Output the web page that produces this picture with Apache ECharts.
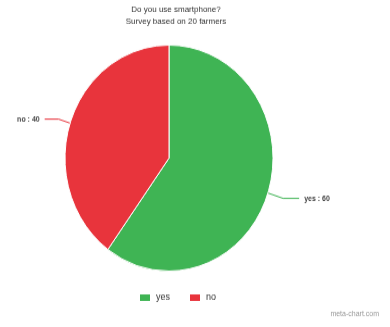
<!DOCTYPE html>
<html>
<head>
<meta charset="utf-8">
<script src="https://cdn.jsdelivr.net/npm/echarts@6/dist/echarts.min.js"></script>
<style>
html,body{margin:0;padding:0;background:#fff;}
#wrap{width:390px;height:327px;overflow:hidden;}
/* the reference picture is stretched vertically, so draw at 390x301 and stretch */
#container{width:390px;height:301px;transform:scale(1,1.0864);transform-origin:0 0;}
</style>
</head>
<body>
<div id="wrap"><div id="container"></div></div>
<script>
var categories = ['yes', 'no'];
var values = [60, 40];
var colors = ['#3fb454', '#e8343c'];

window.onload = function () {
	var chart = echarts.init(document.getElementById('container'));
	var data = [];
	for (var i = 0; i < categories.length; i++) {
		data.push({
			name: categories[i],
			value: values[i],
			itemStyle: { color: colors[i] },
			labelLine: { lineStyle: { color: colors[i] } }
		});
	}
	// yes label sits a bit further out than no
	data[0].labelLine.length = 16;
	data[0].labelLine.length2 = 16;
	var option = {
		backgroundColor: '#fff',
		animation: false,
		title: [{
			text: 'Do you use smartphone?',
			subtext: 'Survey based on 20 farmers',
			left: 171,
			textAlign: 'center',
			top: 0,
			itemGap: 3,
			textStyle: { fontSize: 8, fontWeight: 'normal', color: '#333', fontFamily: 'Liberation Sans' },
			subtextStyle: { fontSize: 8, color: '#333', fontFamily: 'Liberation Sans' }
		}, {
			text: 'meta-chart.com',
			right: 6,
			bottom: 3,
			textStyle: { fontSize: 7, fontWeight: 'normal', color: '#999', fontFamily: 'Liberation Sans' }
		}],
		legend: {
			bottom: 17,
			left: 133,
			itemWidth: 12,
			itemHeight: 8,
			itemGap: 18,
			icon: 'rect',
			textStyle: { fontSize: 9, color: '#333', fontFamily: 'Liberation Sans' },
			data: categories
		},
		series: [{
			type: 'pie',
			center: [169, 145.5],
			radius: 104,
			startAngle: 90,
			clockwise: true,
			itemStyle: { borderColor: '#fff', borderWidth: 1 },
			label: {
				formatter: '{b} : {c}',
				fontSize: 7,
				fontWeight: 'bold',
				color: '#444',
				overflow: 'none',
				fontFamily: 'Liberation Sans'
			},
			labelLine: { length: 12, length2: 14, lineStyle: { width: 1 } },
			data: data
		}]
	};
	chart.setOption(option);
};
</script>
</body>
</html>
